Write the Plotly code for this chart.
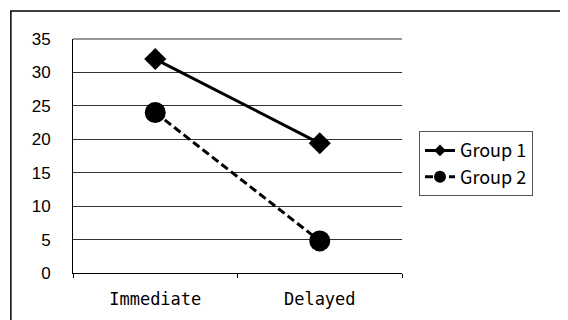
import plotly.graph_objects as go

categories = ["Immediate", "Delayed"]
group1 = [32, 19.4]
group2 = [24, 4.8]
series_names = ["Group 1", "Group 2"]
y_ticks = [0, 5, 10, 15, 20, 25, 30, 35]

fig = go.Figure()
fig.add_trace(go.Scatter(
    x=categories, y=group1, name=series_names[0], mode="lines+markers",
    line=dict(color="black", width=3),
    marker=dict(symbol="diamond", size=17, color="black"),
    showlegend=False,
))
fig.add_trace(go.Scatter(
    x=categories, y=group2, name=series_names[1], mode="lines+markers",
    line=dict(color="black", width=3, dash="8px,4px"),
    marker=dict(symbol="circle", size=21, color="black"),
    showlegend=False,
))
# legend entries (smaller symbols as in the original legend)
fig.add_trace(go.Scatter(
    x=[None], y=[None], name=series_names[0], mode="lines+markers",
    line=dict(color="black", width=3),
    marker=dict(symbol="diamond", size=9, color="black"),
))
fig.add_trace(go.Scatter(
    x=[None], y=[None], name=series_names[1], mode="lines+markers",
    line=dict(color="black", width=3, dash="8px,4px"),
    marker=dict(symbol="circle", size=12, color="black"),
))

# page body has an 8px margin; work in shifted coordinates
OFF = 8
L, R, T, B = 72.7 - OFF, 402 - OFF, 38.5 - OFF, 273.3 - OFF
W, H = 568 - OFF, 320 - OFF
pw, ph = R - L, B - T

fig.update_layout(
    width=W, height=H,
    margin=dict(l=L, r=W - R, t=T, b=H - B, pad=0),
    paper_bgcolor="white", plot_bgcolor="white",
    showlegend=True,
    legend=dict(
        x=(419 - OFF - L) / pw, y=(B - (131 - OFF)) / ph, xanchor="left", yanchor="top",
        bordercolor="#555", borderwidth=1, bgcolor="white",
        font=dict(family="Noto Sans CJK JP", size=18, color="black"),
        tracegroupgap=0, entrywidth=100,
    ),
    xaxis=dict(
        type="category", range=[-0.5, 1.5],
        showline=True, linecolor="black", linewidth=1,
        ticks="outside", ticklen=4, tickcolor="black", tickson="boundaries",
        showgrid=False,
        tickfont=dict(family="DejaVu Sans Mono", size=17, color="black"),
        ticklabelstandoff=11,
    ),
    yaxis=dict(
        range=[0, 35], tickvals=y_ticks,
        showline=True, linecolor="black", linewidth=1,
        showgrid=True, gridcolor="#333", gridwidth=1,
        zeroline=False, ticks="",
        tickfont=dict(family="Liberation Sans, Arial", size=17, color="black"),
        ticklabelstandoff=18,
    ),
    shapes=[dict(
        type="rect", xref="paper", yref="paper",
        x0=(10.5 - OFF - L) / pw, x1=(620 - L) / pw,
        y0=(B - 400) / ph, y1=(B - (10.5 - OFF)) / ph,
        line=dict(color="black", width=1.5), layer="below",
    ), dict(
        type="line", xref="paper", yref="paper", x0=0, x1=1, y0=1, y1=1,
        line=dict(color="#333", width=1),
    )],
)

fig.write_html("out.html")
